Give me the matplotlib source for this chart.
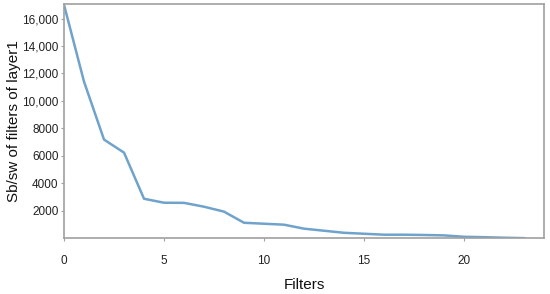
import matplotlib
matplotlib.use("Agg")
import matplotlib.pyplot as plt
from matplotlib.ticker import FuncFormatter

plt.rcParams['font.family'] = ['Liberation Sans', 'DejaVu Sans']

filters = list(range(24))
values = [17000, 11400, 7180, 6230, 2870, 2580, 2570, 2290, 1930, 1120,
          1050, 980, 690, 540, 390, 320, 250, 250, 230, 200, 100, 70, 30, 0]
xticks = [0, 5, 10, 15, 20]
yticks = [2000, 4000, 6000, 8000, 10000, 12000, 14000, 16000]

fig = plt.figure(figsize=(5.5, 2.94), dpi=100)
ax = fig.add_axes([0.1164, 0.190, 0.8727, 0.796])
ax.plot(filters, values, color='#6fa3cc', linewidth=1.8)
ax.set_xlim(0, 24.0)
ax.set_ylim(0, 17050)
ax.set_xticks(xticks)
ax.set_yticks(yticks)

def fmt(v, pos):
    v = int(v)
    return f"{v:,}" if v >= 10000 else str(v)

ax.yaxis.set_major_formatter(FuncFormatter(fmt))
for s in ax.spines.values():
    s.set_color('#a0a0a0')
    s.set_linewidth(1.2)
ax.tick_params(axis='both', colors='#a0a0a0', labelcolor='#222222', labelsize=8.5, length=2)
ax.tick_params(axis='x', pad=10)
ax.tick_params(axis='y', pad=2)
ax.set_xlabel('Filters', fontsize=11, color='#111111', labelpad=8)
ax.set_ylabel('Sb/sw of filters of layer1', fontsize=11, color='#111111', labelpad=1)

fig.savefig('out.png', dpi=100)
